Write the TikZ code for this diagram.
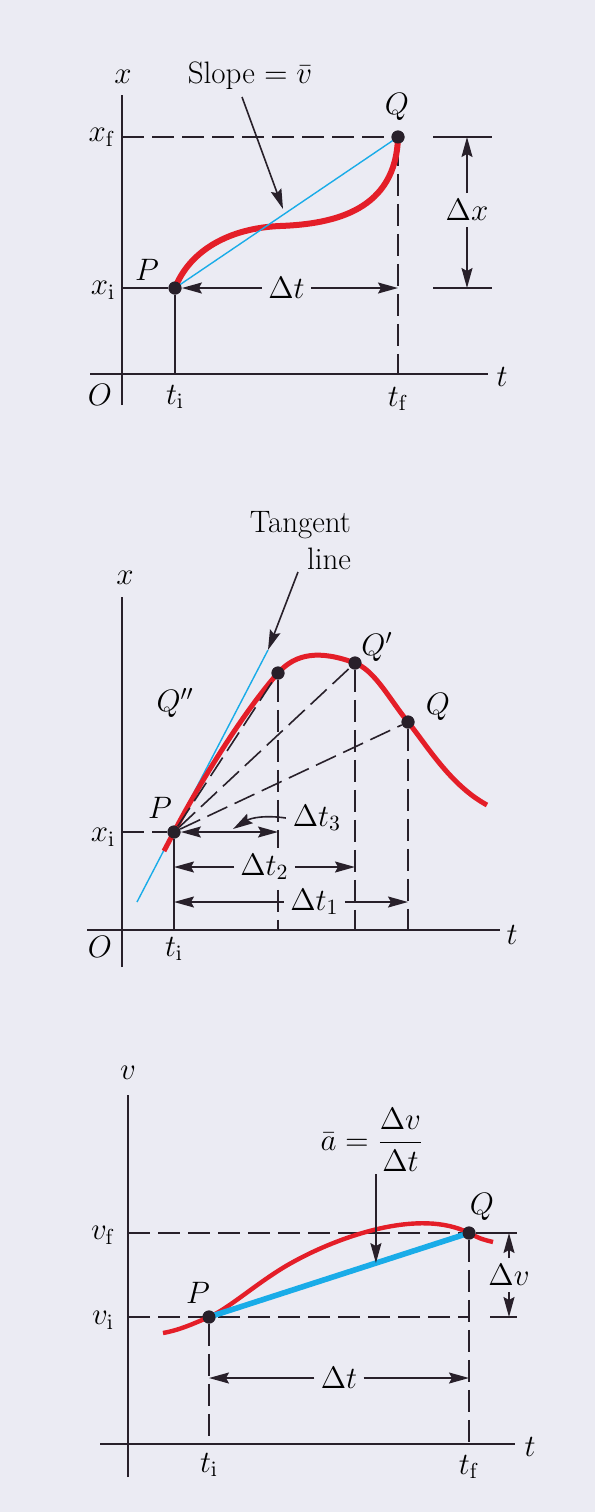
\RequirePackage{fix-cm}
\documentclass[tikz,border=0pt]{standalone}
\usepackage{amsmath}
\usetikzlibrary{arrows.meta,calc}
\definecolor{nen}{RGB}{235,235,243}
\definecolor{duongdo}{RGB}{228,30,40}
\definecolor{duongxanh}{RGB}{25,172,232}
\definecolor{mucden}{RGB}{40,32,42}
\tikzset{
  truc/.style={mucden, line width=0.85pt},
  netdut/.style={mucden, line width=0.8pt, dash pattern=on 11pt off 4pt},
  diem/.style={circle, fill=mucden, inner sep=0pt, minimum size=6.5pt},
  muiten/.style={mucden, line width=0.8pt, ->},
  nhan/.style={fill=nen, inner sep=3pt},
}
\begin{document}
\begin{tikzpicture}[x=0.5pt, y=-0.5pt, font=\fontsize{15.5}{18.5}\selectfont,
    >={Stealth[length=10pt,width=5.5pt,inset=1.5pt]}]
    \useasboundingbox (0,0) rectangle (595,1512);
    \fill[nen] (0,0) rectangle (595,1512);

    % Hình trên: vận tốc trung bình
    \coordinate (O1) at (122,374);
    \coordinate (yT1) at (122,95);
    \coordinate (yB1) at (122,405);
    \coordinate (xL1) at (90,374);
    \coordinate (xR1) at (488,374);
    \draw[truc] (yB1) -- (yT1);
    \draw[truc] (xL1) -- (xR1);
    \node (lx1) at ($(yT1)+(1,-18)$) {$x$};
    \node (lt1) at ($(xR1)+(14,3)$) {$t$};
    \node (lO1) at ($(O1)+(-22,21)$) {$O$};

    \node[diem] (P1) at (175,288) {};
    \node[diem] (Q1) at (398,137) {};
    \draw[truc] (O1 |- P1) -- (P1);
    \draw[truc] (P1) -- (P1 |- O1);
    \draw[netdut] (O1 |- Q1) -- (Q1);
    \draw[netdut] (Q1) -- (Q1 |- O1);

    % Đường cong và dây cung
    \draw[duongdo, line width=3pt] (P1.center)
      .. controls (190,250) and (230,228) .. (280,226)
      .. controls (335,224) and (396,210) .. (Q1.center);
    \draw[duongxanh, line width=0.7pt] (P1.center) -- (Q1.center);
    \node[diem] at (P1) {};
    \node[diem] at (Q1) {};

    % Δt và Δx
    \node[nhan] (dt1) at ($(P1)!0.5!(P1 -| Q1)$) {$\Delta t$};
    \draw[muiten] (dt1) -- (P1);
    \draw[muiten] (dt1) -- (P1 -| Q1);
    \coordinate (dxa) at ($(Q1)+(35,0)$);
    \coordinate (dxb) at ($(Q1)+(94,0)$);
    \coordinate (dxc) at ($(Q1)+(69,0)$);
    \draw[truc] (dxa) -- (dxb);
    \draw[truc] (dxa |- P1) -- (dxb |- P1);
    \node[nhan] (dx) at ($(dxc)+(0,73)$) {$\Delta x$};
    \draw[muiten] (dx) -- (dxc);
    \draw[muiten] (dx) -- (dxc |- P1);

    \node (doc) at (250,76) {Slope $= \bar{v}$};
    \coordinate (s0) at (242,97);
    \coordinate (s1) at (283,209);
    \draw[muiten] (s0) -- (s1);

    \node (lP1) at ($(P1)+(-28,-18)$) {$P$};
    \node (lQ1) at ($(Q1)+(-1,-30)$) {$Q$};
    \node (lxf1) at ($(O1 |- Q1)+(-20,0)$) {$x_{\mathrm{f}}$};
    \node (lxi1) at ($(O1 |- P1)+(-19,2)$) {$x_{\mathrm{i}}$};
    \node (lti1) at ($(P1 |- O1)+(0,23)$) {$t_{\mathrm{i}}$};
    \node (ltf1) at ($(Q1 |- O1)+(0,25)$) {$t_{\mathrm{f}}$};

    % Hình giữa: vận tốc tức thời
    \coordinate (O2) at (122,930);
    \coordinate (yT2) at (122,597);
    \coordinate (yB2) at (122,967);
    \coordinate (xL2) at (87,930);
    \coordinate (xR2) at (500,930);
    \draw[truc] (yB2) -- (yT2);
    \draw[truc] (xL2) -- (xR2);
    \node (lx2) at ($(yT2)+(3,-19)$) {$x$};
    \node (lt2) at ($(xR2)+(12,5)$) {$t$};
    \node (lO2) at ($(O2)+(-22,17)$) {$O$};

    \node[diem] (P2) at (174,832) {};
    \node[diem] (Qpp) at (278,673) {};
    \node[diem] (Qp) at (355,663) {};
    \node[diem] (Q2) at (408,722) {};
    \draw[netdut] (O2 |- P2) -- (P2);
    \draw[truc] (P2) -- (P2 |- O2);
    \foreach \d in {Qpp,Qp,Q2}
      \draw[netdut] (\d) -- (\d |- O2);

    % Tiếp tuyến tại P
    \coordinate (tt0) at ($(P2)+(-37,70)$);
    \coordinate (tt1) at ($(P2)+(94,-182)$);
    \draw[duongxanh, line width=0.7pt] (tt0) -- (tt1);
    \draw[duongdo, line width=2.5pt] (164,851) -- (P2.center)
      .. controls (200,782) and (245,710) .. (Qpp.center)
      .. controls (296,653) and (320,650) .. (Qp.center)
      .. controls (375,670.5) and (390,700) .. (Q2.center)
      .. controls (426,744) and (450,785) .. (487,805);
    \foreach \d in {Qpp,Qp,Q2}
      \draw[netdut] (P2) -- (\d);
    \foreach \d in {P2,Qpp,Qp,Q2}
      \node[diem] at (\d) {};

    % Các khoảng Δt
    \draw[muiten, <->] (P2) -- (P2 -| Qpp);
    \node (dt3) at (317,818) {$\Delta t_3$};
    \coordinate (c3) at (233,829);
    \draw[muiten] (dt3.west) to[bend right=20] (c3);
    \coordinate (a2) at ($(P2)+(0,35)$);
    \node[nhan] (dt2) at ($(a2)!0.5!(a2 -| Qp)$) {$\Delta t_2$};
    \draw[muiten] (dt2) -- (a2);
    \draw[muiten] (dt2) -- (a2 -| Qp);
    \coordinate (b2) at ($(P2)+(0,70)$);
    \node[nhan] (dt1b) at ($(b2)!0.6!(b2 -| Q2)$) {$\Delta t_1$};
    \draw[muiten] (dt1b) -- (b2);
    \draw[muiten] (dt1b) -- (b2 -| Q2);

    \node[align=right, anchor=east] (tiep) at (358,541) {Tangent\\line};
    \coordinate (t0) at (298,572);
    \draw[muiten] (t0) -- (tt1);

    \node (lP2) at ($(P2)+(-14,-24)$) {$P$};
    \node (lQpp) at ($(Qpp)+(-103,30)$) {$Q''$};
    \node (lQp) at ($(Qp)+(22,-16)$) {$Q'$};
    \node (lQ2) at ($(Q2)+(30,-15)$) {$Q$};
    \node (lxi2) at ($(O2 |- P2)+(-19,5)$) {$x_{\mathrm{i}}$};
    \node (lti2) at ($(P2 |- O2)+(0,19)$) {$t_{\mathrm{i}}$};

    % Hình dưới: gia tốc trung bình
    \coordinate (O3) at (128,1444);
    \coordinate (yT3) at (128,1095);
    \coordinate (yB3) at (128,1477);
    \coordinate (xL3) at (100,1444);
    \coordinate (xR3) at (515,1444);
    \draw[truc] (yB3) -- (yT3);
    \draw[truc] (xL3) -- (xR3);
    \node (lv3) at ($(yT3)+(0,-22)$) {$v$};
    \node (lt3) at ($(xR3)+(15,3)$) {$t$};

    \node[diem] (P3) at (209,1317) {};
    \node[diem] (Q3) at (469,1233) {};
    \coordinate (dvR) at ($(Q3)+(48,0)$);
    \coordinate (dvL) at ($(dvR |- P3)+(-27,0)$);
    \draw[netdut] (O3 |- Q3) -- (Q3);
    \draw[truc] (Q3) -- (dvR);
    \draw[netdut] (O3 |- P3) -- (P3 -| Q3);
    \draw[truc] (dvL) -- (dvR |- P3);
    \draw[netdut] (P3) -- (P3 |- O3);
    \draw[netdut] (Q3) -- (Q3 |- O3);

    \draw[duongdo, line width=2.2pt] (163,1333)
      .. controls (180,1330) and (195,1323) .. (P3.center)
      .. controls (230,1308) and (260,1280) .. (293,1262)
      .. controls (340,1236) and (420,1208) .. (Q3.center)
      .. controls (481,1239) .. (493,1242);
    \draw[duongxanh, line width=2.8pt] (P3.center) -- (Q3.center);
    \node[diem] at (P3) {};
    \node[diem] at (Q3) {};

    \coordinate (ab) at ($(P3)!0.642!(Q3)$);
    \node[inner sep=1pt] (tb) at (372,1140) {$\bar{a} = \dfrac{\Delta v}{\Delta t}$};
    \draw[muiten] (tb.south -| ab) -- (ab);

    \coordinate (c4) at ($(P3 |- O3)+(0,-66)$);
    \node[nhan] (dt4) at ($(c4)!0.5!(c4 -| Q3)$) {$\Delta t$};
    \draw[muiten] (dt4) -- (c4);
    \draw[muiten] (dt4) -- (c4 -| Q3);
    \node[nhan] (dv) at ($(Q3)+(40,42)$) {$\Delta v$};
    \draw[muiten] (dv) -- (dv |- Q3);
    \draw[muiten] (dv) -- (dv |- P3);

    \node (lP3) at ($(P3)+(-11,-24)$) {$P$};
    \node (lQ3) at ($(Q3)+(13,-26)$) {$Q$};
    \node (lvf3) at ($(O3 |- Q3)+(-25,2)$) {$v_{\mathrm{f}}$};
    \node (lvi3) at ($(O3 |- P3)+(-25,3)$) {$v_{\mathrm{i}}$};
    \node (lti3) at ($(P3 |- O3)+(0,21)$) {$t_{\mathrm{i}}$};
    \node (ltf3) at ($(Q3 |- O3)+(0,23)$) {$t_{\mathrm{f}}$};
\end{tikzpicture}
\end{document}
